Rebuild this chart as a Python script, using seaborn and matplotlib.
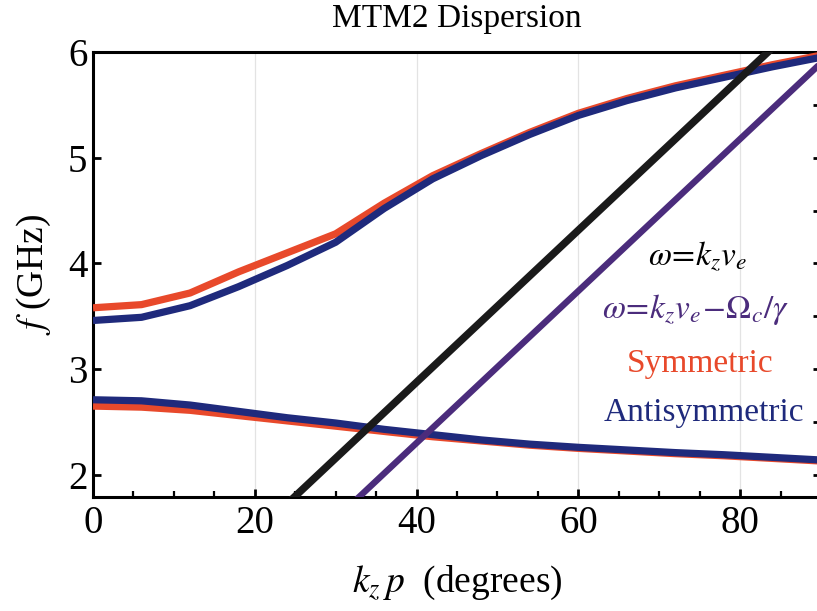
import numpy as np
import pandas as pd
import matplotlib
matplotlib.use("Agg")
import matplotlib.pyplot as plt
from matplotlib.ticker import MultipleLocator
import seaborn as sns

# Phase advance per period (degrees) at which the modes were sampled
kzp_deg = [0, 6, 12, 18, 24, 30, 36, 42, 48, 54, 60, 66, 72, 78, 84, 90]

# Upper and lower MTM2 branches (GHz)
sym_upper = [3.58, 3.61, 3.72, 3.92, 4.10, 4.28, 4.57, 4.83, 5.04, 5.24, 5.42, 5.56, 5.68, 5.78, 5.88, 5.97]
anti_upper = [3.46, 3.49, 3.60, 3.78, 3.98, 4.20, 4.52, 4.80, 5.02, 5.22, 5.40, 5.54, 5.66, 5.76, 5.86, 5.95]
sym_lower = [2.65, 2.64, 2.61, 2.56, 2.51, 2.46, 2.41, 2.36, 2.32, 2.28, 2.25, 2.225, 2.20, 2.18, 2.155, 2.13]
anti_lower = [2.71, 2.70, 2.66, 2.60, 2.54, 2.49, 2.43, 2.38, 2.33, 2.29, 2.26, 2.235, 2.21, 2.19, 2.165, 2.14]

# Beam lines: f = kz*ve (GHz per degree of phase) and the cyclotron-shifted line
beam_slope = 0.0719
cyclotron_shift = 0.575
beam_x = [0, 90]

x_ticks = [0, 20, 40, 60, 80]
y_ticks = [2, 3, 4, 5, 6]

RED = "#e8492b"
BLUE = "#1f2a7c"
PURPLE = "#4b2c7c"
BLACK = "#1a1a1a"

sns.set_theme(style="white")
plt.rcParams["font.family"] = ["Liberation Serif", "DejaVu Serif"]
plt.rcParams["mathtext.fontset"] = "stix"
plt.rcParams["text.color"] = "black"
plt.rcParams["axes.labelcolor"] = "black"
plt.rcParams["xtick.color"] = "black"
plt.rcParams["ytick.color"] = "black"

df = pd.DataFrame({
    "kzp": kzp_deg,
    "sym_upper": sym_upper,
    "anti_upper": anti_upper,
    "sym_lower": sym_lower,
    "anti_lower": anti_lower,
})
beam = pd.DataFrame({"kzp": beam_x})
beam["light"] = beam_slope * beam["kzp"]
beam["shifted"] = beam["light"] - cyclotron_shift

fig = plt.figure(figsize=(8.17, 6.11), dpi=100)
ax = fig.add_axes([93 / 817, 114 / 611, 728 / 817, 445 / 611])

for col, color in [("sym_upper", RED), ("anti_upper", BLUE),
                   ("sym_lower", RED), ("anti_lower", BLUE)]:
    sns.lineplot(data=df, x="kzp", y=col, color=color, lw=5.2, ax=ax,
                 solid_capstyle="butt", zorder=3)
sns.lineplot(data=beam, x="kzp", y="light", color=BLACK, lw=5.4, ax=ax, zorder=4)
sns.lineplot(data=beam, x="kzp", y="shifted", color=PURPLE, lw=4.6, ax=ax, zorder=4)

ax.set_xlim(0, 90)
ax.set_ylim(1.79, 6)
ax.set_xticks(x_ticks)
ax.set_yticks(y_ticks)
ax.xaxis.set_minor_locator(MultipleLocator(5))
ax.yaxis.set_minor_locator(MultipleLocator(0.5))

ax.grid(axis="x", which="major", color="#e3e3e3", lw=0.9, zorder=0)
ax.grid(axis="y", visible=False)

for sp in ax.spines.values():
    sp.set_color("black")
    sp.set_linewidth(2.2)

ax.tick_params(axis="both", which="both", direction="in", colors="black")
ax.tick_params(axis="x", which="major", length=6, width=2, labelsize=28, pad=6,
               top=False, bottom=True)
ax.tick_params(axis="x", which="minor", length=4, width=1.6, top=False, bottom=True)
ax.tick_params(axis="y", which="major", length=6, width=2, labelsize=28, pad=4,
               left=True, right=True)
ax.tick_params(axis="y", which="minor", length=6, width=2, left=False, right=True)

ax.set_xlabel(r"$k_z\,p$  (degrees)", fontsize=27, color="black")
ax.set_ylabel(r"$f$ (GHz)", fontsize=27, color="black")
ax.xaxis.set_label_coords(0.5, -0.15)
ax.yaxis.set_label_coords(-0.055, 0.5)

fig.text((93 + 821) / 2 / 817, 1 - 27 / 611, "MTM2 Dispersion", fontsize=24,
         ha="center", va="baseline", color="black")

ax.text(74.8, 3.985, r"$\omega\!=\!k_z v_e$", fontsize=24, color="black",
        ha="center", va="baseline")
ax.text(74.5, 3.48, r"$\omega\!=\!k_z v_e\!-\!\Omega_c/\gamma$", fontsize=24,
        color=PURPLE, ha="center", va="baseline")
ax.text(75.0, 2.97, "Symmetric", fontsize=24, color=RED, ha="center", va="baseline")
ax.text(75.5, 2.51, "Antisymmetric", fontsize=24, color=BLUE, ha="center", va="baseline")

fig.savefig("out.png", dpi=100)
